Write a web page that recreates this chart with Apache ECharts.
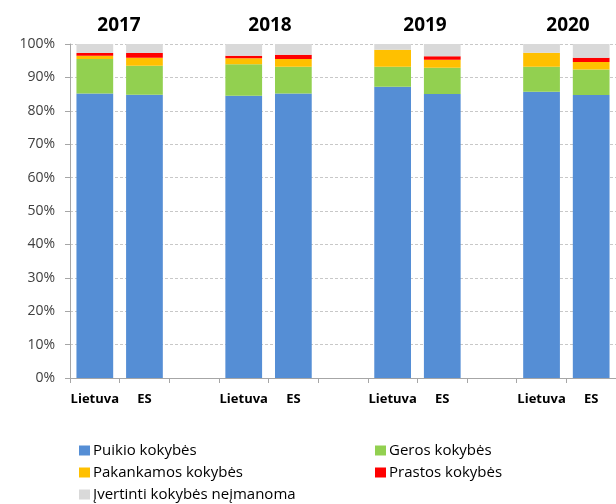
<!DOCTYPE html>
<html>
<head>
<meta charset="utf-8">
<script src="https://cdn.jsdelivr.net/npm/echarts@6/dist/echarts.min.js"></script>
<style>
  html, body { margin: 0; padding: 0; background: #fff; }
  #chart { width: 616px; height: 504px; }
</style>
</head>
<body>
<div id="chart"></div>
<script>
// Bathing water quality shares (%) per year, Lithuania vs EU; empty slots separate years
const categories = ['Lietuva', 'ES', '', 'Lietuva', 'ES', '', 'Lietuva', 'ES', '', 'Lietuva', 'ES'];
const years = ['2017', '2018', '2019', '2020'];

const puikio      = [85.2, 84.8, null, 84.5, 85.2, null, 87.2, 85.0, null, 85.7, 84.7];
const geros       = [10.3,  8.7, null,  9.4,  8.0, null,  6.0,  7.9, null,  7.5,  7.7];
const pakankamos  = [ 1.0,  2.4, null,  1.8,  2.3, null,  5.1,  2.4, null,  4.2,  2.2];
const prastos     = [ 0.8,  1.4, null,  0.8,  1.3, null,  0.0,  1.0, null,  0.0,  1.3];
const nejmanoma   = [ 2.7,  2.7, null,  3.5,  3.2, null,  1.7,  3.7, null,  2.6,  4.1];

const seriesNames = ['Puikio kokybės', 'Geros kokybės', 'Pakankamos kokybės', 'Prastos kokybės', 'Įvertinti kokybės neįmanoma'];
const seriesData = [puikio, geros, pakankamos, prastos, nejmanoma];
const colors = ['#558ed5', '#92d050', '#ffc000', '#ff0000', '#d9d9d9'];

const FONT = 'Open Sans';

const chart = echarts.init(document.getElementById('chart'));

// one legend per entry, laid out in two columns
const legendPos = [
  { left: 79, top: 443 }, { left: 375, top: 443 },
  { left: 79, top: 465 }, { left: 375, top: 465 },
  { left: 79, top: 487 }
];

// year headings sit above the middle of each Lietuva/ES pair
const yearLeft = [119, 270, 425, 568];

const option = {
  animation: false,
  color: colors,
  title: years.map((y, i) => ({
    text: y,
    left: yearLeft[i],
    top: 16,
    padding: 0,
    textAlign: 'center',
    textStyle: { fontFamily: FONT, fontSize: 19, fontWeight: 'bold', color: '#000' }
  })),
  legend: seriesNames.map((n, i) => ({
    data: [n],
    left: legendPos[i].left,
    top: legendPos[i].top,
    icon: 'rect',
    itemWidth: 11,
    itemHeight: 10,
    itemGap: 0,
    padding: 0,
    selectedMode: false,
    textStyle: { fontFamily: FONT, fontSize: 15, color: '#000', padding: [0, 0, 0, -2] }
  })),
  grid: { left: 70, top: 44, width: 550, bottom: 126, containLabel: false },
  xAxis: {
    type: 'category',
    data: categories,
    axisLine: { show: true, lineStyle: { color: '#a6a6a6', width: 1 } },
    axisTick: { show: true, interval: 0, length: 5, lineStyle: { color: '#a6a6a6' } },
    axisLabel: { interval: 0, margin: 15, fontFamily: FONT, fontSize: 13, fontWeight: 'bold', color: '#000' }
  },
  yAxis: {
    type: 'value',
    min: 0,
    max: 100,
    interval: 10,
    axisLine: { show: true, lineStyle: { color: '#a6a6a6', width: 1 } },
    axisTick: { show: true, length: 5, lineStyle: { color: '#a6a6a6' } },
    axisLabel: { formatter: '{value}%', margin: 15, fontFamily: FONT, fontSize: 14, color: '#404040' },
    splitLine: { show: true, lineStyle: { color: '#c8c8c8', type: [3, 2], width: 1 } }
  },
  series: seriesNames.map((n, i) => ({
    name: n,
    type: 'bar',
    stack: 'total',
    barWidth: '74%',
    data: seriesData[i],
    itemStyle: { color: colors[i] }
  }))
};

chart.setOption(option);
</script>
</body>
</html>
